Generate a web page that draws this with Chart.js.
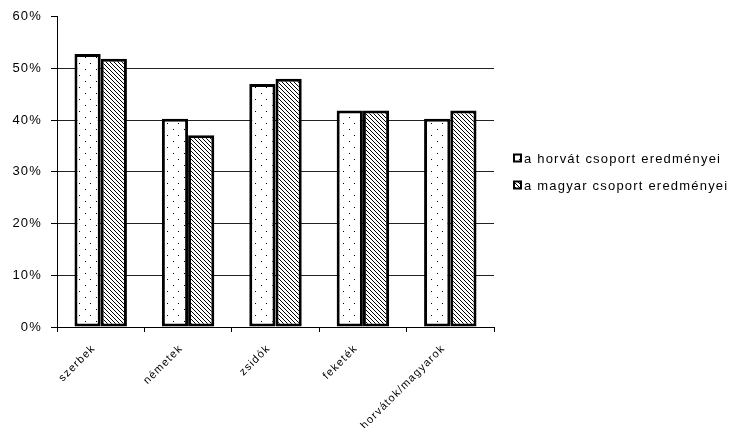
<!DOCTYPE html>
<html>
<head>
<meta charset="utf-8">
<script src="https://cdn.jsdelivr.net/npm/chart.js@4/dist/chart.umd.min.js"></script>
<style>
  html, body { margin: 0; padding: 0; background: #fff; }
  canvas { display: block; }
</style>
</head>
<body>
<canvas id="c" width="738" height="428"></canvas>
<script>
// Categories and the two groups' results (percent)
const categories = ['szerbek', 'németek', 'zsidók', 'feketék', 'horvátok/magyarok'];
const seriesNames = ['a horvát csoport eredményei', 'a magyar csoport eredményei'];
const croatianGroup = [52.8, 40.3, 47.0, 41.9, 40.3];
const hungarianGroup = [51.9, 37.1, 48.0, 41.9, 41.9];
const yTicks = [0, 10, 20, 30, 40, 50, 60];

const FONT = '"Liberation Sans", Arial, sans-serif';

// Fill patterns: sparse dots and dense diagonal hatching
function dotPattern(ctx) {
  const p = document.createElement('canvas');
  p.width = 11; p.height = 12;
  const g = p.getContext('2d');
  g.fillStyle = '#fff'; g.fillRect(0, 0, 11, 12);
  g.fillStyle = '#000';
  g.fillRect(2, 3, 1, 1);
  g.fillRect(8, 9, 1, 1);
  return ctx.createPattern(p, 'repeat');
}
function hatchPattern(ctx) {
  const p = document.createElement('canvas');
  p.width = 4; p.height = 4;
  const g = p.getContext('2d');
  g.fillStyle = '#fff'; g.fillRect(0, 0, 4, 4);
  g.fillStyle = '#000';
  for (let i = 0; i < 4; i++) g.fillRect(i, i, 1, 1);
  return ctx.createPattern(p, 'repeat');
}

const canvas = document.getElementById('c');
const ctx = canvas.getContext('2d');
const fills = [dotPattern(ctx), hatchPattern(ctx)];

const spacingPlugin = {
  id: 'spacing',
  beforeLayout(chart) { chart.ctx.letterSpacing = '1.2px'; },
  beforeDraw(chart) {
    const c = chart.ctx;
    c.save();
    c.fillStyle = '#fff';
    c.fillRect(0, 0, chart.width, chart.height);
    c.restore();
    c.letterSpacing = '1.2px';
  }
};

const legendPlugin = {
  id: 'sideLegend',
  afterDraw(chart) {
    const c = chart.ctx;
    c.save();
    c.letterSpacing = '1.2px';
    c.font = '13px ' + FONT;
    c.textBaseline = 'middle';
    c.textAlign = 'left';
    chart.data.datasets.forEach((ds, i) => {
      const cy = 158 + i * 27;
      const x = 513, s = 9;
      c.fillStyle = '#000';
      c.fillRect(x, cy - s / 2, s, s);
      c.fillStyle = ds.backgroundColor;
      c.fillRect(x + 2, cy - s / 2 + 2, s - 4, s - 4);
      c.fillStyle = '#000';
      c.fillText(ds.label, x + 11, cy + 1);
    });
    c.restore();
  }
};

new Chart(canvas, {
  type: 'bar',
  data: {
    labels: categories,
    datasets: [
      { label: seriesNames[0], data: croatianGroup, backgroundColor: fills[0] },
      { label: seriesNames[1], data: hungarianGroup, backgroundColor: fills[1] }
    ]
  },
  options: {
    responsive: false,
    animation: false,
    layout: { padding: { left: 0, right: 244, top: 16, bottom: 0 } },
    datasets: {
      bar: {
        borderColor: '#000',
        borderWidth: 3,
        borderSkipped: false,
        categoryPercentage: 0.6,
        barPercentage: 1.0
      }
    },
    plugins: {
      legend: { display: false },
      tooltip: { enabled: false }
    },
    scales: {
      x: {
        grid: {
          offset: true,
          drawOnChartArea: false,
          drawTicks: true,
          tickLength: 5,
          tickColor: '#000'
        },
        border: { display: true, color: '#000', width: 1 },
        ticks: {
          color: '#000',
          font: { family: FONT, size: 11 },
          minRotation: 45,
          maxRotation: 45,
          padding: 10,
          labelOffset: -7,
          autoSkip: false
        },
        afterFit(scale) { scale.height = 101; }
      },
      y: {
        min: 0,
        max: 60,
        afterBuildTicks(scale) { scale.ticks = yTicks.map(v => ({ value: v })); },
        grid: {
          color: (c) => (c.tick && c.tick.value === 60) ? 'rgba(0,0,0,0)' : '#222',
          tickColor: '#000',
          tickLength: 6,
          lineWidth: 1
        },
        border: { display: true, color: '#000', width: 1 },
        ticks: {
          color: '#000',
          font: { family: FONT, size: 13 },
          padding: 9,
          callback: (v) => v + '%'
        },
        afterFit(scale) { scale.width = 57; }
      }
    }
  },
  plugins: [spacingPlugin, legendPlugin]
});
</script>
</body>
</html>
